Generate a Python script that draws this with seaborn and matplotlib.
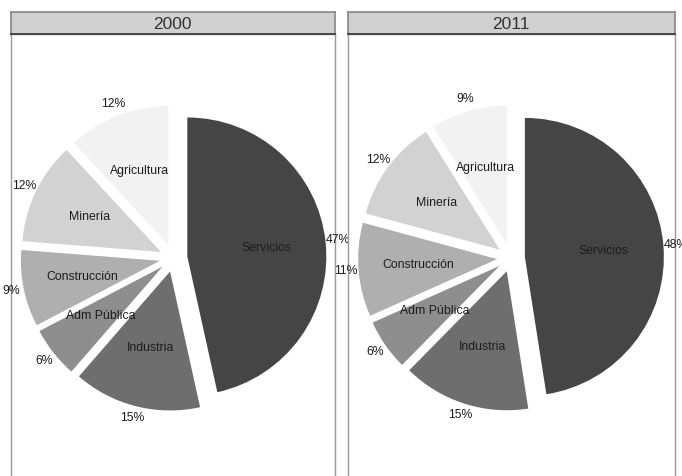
import matplotlib
matplotlib.use("Agg")
import matplotlib.pyplot as plt
import seaborn as sns

sns.set_theme(style="white")
plt.rcParams['font.family'] = ['Liberation Sans', 'DejaVu Sans']

sectores = ["Servicios", "Industria", "Adm Pública", "Construcción", "Minería", "Agricultura"]
pct_2000 = [47, 15, 6, 9, 12, 12]
pct_2011 = [48, 15, 6, 11, 12, 9]
anios = ["2000", "2011"]

grises = ["#454545", "#6e6e6e", "#8e8e8e", "#afafaf", "#d2d2d2", "#f2f2f2"]

W, H = 682, 476
fig = plt.figure(figsize=(W / 100, H / 100), dpi=100)

R = 139  # pie radius in px
paneles = [(10.5, 335), (348, 674.5)]

for (x0, x1), anio, vals in zip(paneles, anios, [pct_2000, pct_2011]):
    top, bottom = 34, 482
    w, h = x1 - x0, bottom - top
    ax = fig.add_axes([x0 / W, (H - bottom) / H, w / W, h / H])
    cx = 163

    wedges, texts, autotexts = ax.pie(
        vals, labels=sectores, colors=grises, startangle=90, counterclock=False,
        explode=[0.1] * len(vals), labeldistance=0.57, pctdistance=1.09,
        autopct=lambda p: f"{p:.0f}%", wedgeprops=dict(linewidth=0),
        textprops=dict(fontsize=8.8, color="#1c1c1c"), frame=True)
    ax.set_xlim(-cx / R, (w - cx) / R)
    ax.set_ylim(-(h / 2) / R, (h / 2) / R)
    ax.set_aspect("auto")
    ax.set_xticks([])
    ax.set_yticks([])
    for s in ax.spines.values():
        s.set_visible(True)
        s.set_color("#9a9a9a")
        s.set_linewidth(1)
    for t in texts:
        t.set_ha("center")
        t.set_va("center")

    # strip header
    sx = fig.add_axes([x0 / W, (H - 34) / H, w / W, 22 / H])
    sx.set_facecolor("#d0d0d0")
    sx.set_xticks([])
    sx.set_yticks([])
    for s in sx.spines.values():
        s.set_color("#8a8a8a")
    sx.spines["bottom"].set_color("#333333")
    sx.spines["bottom"].set_linewidth(1.2)
    sx.text(0.5, 0.45, anio, ha="center", va="center", fontsize=12.5,
            color="#333333", transform=sx.transAxes)

fig.savefig("out.png", dpi=100)
